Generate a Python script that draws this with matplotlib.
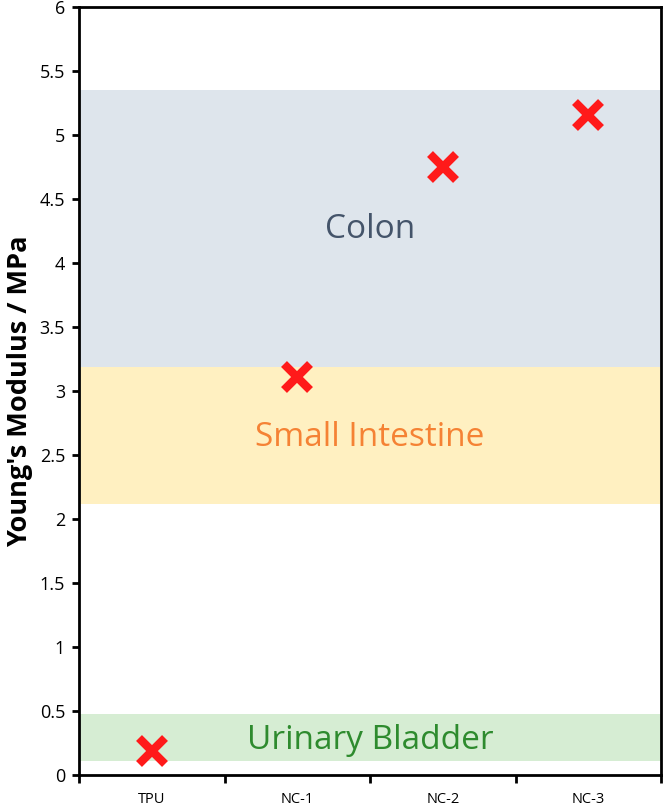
import matplotlib.pyplot as plt
import numpy as np

# categories and measured moduli (MPa)
samples = ['TPU', 'NC-1', 'NC-2', 'NC-3']
modulus = [0.19, 3.11, 4.75, 5.16]

# tissue ranges (MPa)
tissues = ['Colon', 'Small Intestine', 'Urinary Bladder']
tissue_low = [3.19, 2.12, 0.11]
tissue_high = [5.35, 3.19, 0.48]
label_y = [4.26, 2.64, 0.27]
band_colors = ['#dee5ec', '#fff0c1', '#d6edd3']
text_colors = ['#44546a', '#f58234', '#2e8b2e']

plt.rcParams['font.family'] = ['Open Sans', 'DejaVu Sans']

fig = plt.figure(figsize=(6.64, 8.08), dpi=100)
ax = fig.add_axes([79/664, 1 - 775/808, (661-79)/664, (775-7)/808])

x = np.arange(len(samples))
for lo, hi, c in zip(tissue_low, tissue_high, band_colors):
    ax.axhspan(lo, hi, color=c, lw=0, zorder=0)
for name, yy, c in zip(tissues, label_y, text_colors):
    ax.text(1.5, yy, name, color=c, fontsize=24, ha='center', va='center', zorder=1)

ax.plot(x, modulus, linestyle='None', marker='x', markersize=19,
        markeredgewidth=6, color='#ff1a1a', zorder=3)

ax.set_xlim(-0.5, 3.5)
ax.set_ylim(0, 6)
ax.set_yticks(np.arange(0, 6.01, 0.5))
ax.set_yticklabels(['0', '0.5', '1', '1.5', '2', '2.5', '3', '3.5', '4', '4.5', '5', '5.5', '6'])
ax.set_xticks(np.arange(-0.5, 3.6, 1))
ax.set_xticklabels([])
ax.set_xticks(x, minor=True)
ax.set_xticklabels(samples, minor=True)
ax.tick_params(axis='x', which='minor', length=0, pad=12, labelsize=10.5)
ax.tick_params(axis='x', which='major', length=6, width=2, direction='out')
ax.tick_params(axis='y', length=5, width=2, direction='out', labelsize=13, pad=5)
for s in ax.spines.values():
    s.set_linewidth(2)
ax.set_ylabel("Young's Modulus / MPa", fontsize=19.5, fontweight='bold', labelpad=5)

fig.savefig('out.png', dpi=100)
